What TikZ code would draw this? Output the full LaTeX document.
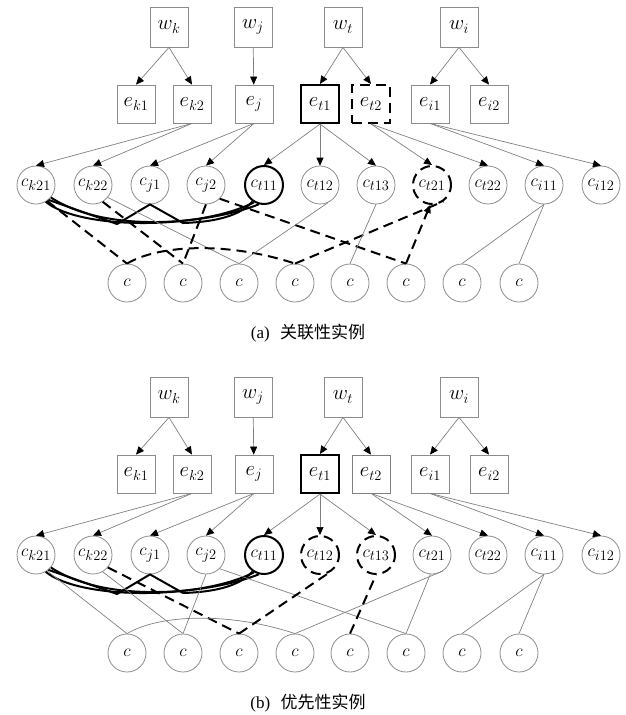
\documentclass[tikz,border=0pt]{standalone}
\usepackage{fontspec}
\setmainfont{Liberation Serif}
\newfontfamily\cjk{Noto Sans CJK SC}
\usetikzlibrary{arrows.meta}

\begin{document}
\begin{tikzpicture}[
  x=1pt, y=-1pt,
  every node/.style={font=\fontsize{20}{22}\selectfont},
  link/.style={draw=black!50, line width=0.7pt},
  arr/.style={link, -{Triangle[length=8pt,width=7pt,color=black]}},
  tipa/.style={-{Triangle[length=8pt,width=7pt,color=black]}},
  plain/.style={},
  wordbox/.style={draw=black!45, line width=0.8pt, minimum width=38pt, minimum height=40pt, inner sep=0pt},
  entbox/.style={draw=black!45, line width=0.8pt, minimum width=38pt, minimum height=38pt, inner sep=0pt},
  cand/.style={circle, draw=black!45, line width=0.8pt, minimum size=38pt, inner sep=0pt, font=\fontsize{19}{21}\selectfont},
  sel/.style={draw=black, line width=2pt},
  seldash/.style={draw=black, line width=2pt, dash pattern=on 10pt off 6pt}
]
  \useasboundingbox (0,0) rectangle (625,715);

  \foreach \pn/\dy/\ha/\hb/\tp/\ct in {a/0/seldash/link/tipa/关联性实例, b/370/link/seldash/plain/优先性实例}{
  \begin{scope}[shift={(0,\dy)}]
    % words
    \node[wordbox] (wk\pn) at (169,27) {$w_k$};
    \node[wordbox] (wj\pn) at (253,27) {$w_j$};
    \node[wordbox] (wt\pn) at (343,27) {$w_t$};
    \node[wordbox] (wi\pn) at (459,27) {$w_i$};
    % entities
    \node[entbox] (ek1\pn) at (136,104) {$e_{k1}$};
    \node[entbox] (ek2\pn) at (192,104) {$e_{k2}$};
    \node[entbox] (ej\pn) at (254,104) {$e_j$};
    \node[entbox, sel] (et1\pn) at (320,104) {$e_{t1}$};
    \node[entbox, \ha] (et2\pn) at (371,104) {$e_{t2}$};
    \node[entbox] (ei1\pn) at (430,104) {$e_{i1}$};
    \node[entbox] (ei2\pn) at (489,104) {$e_{i2}$};
    % concepts
    \node[cand] (ck21\pn) at (36,185) {$c_{k21}$};
    \node[cand] (ck22\pn) at (93,185) {$c_{k22}$};
    \node[cand] (cj1\pn) at (150,185) {$c_{j1}$};
    \node[cand] (cj2\pn) at (206,185) {$c_{j2}$};
    \node[cand, sel] (ct11\pn) at (264,185) {$c_{t11}$};
    \node[cand, \hb] (ct12\pn) at (320,185) {$c_{t12}$};
    \node[cand, \hb] (ct13\pn) at (376,185) {$c_{t13}$};
    \node[cand, \ha] (ct21\pn) at (432,185) {$c_{t21}$};
    \node[cand] (ct22\pn) at (488,185) {$c_{t22}$};
    \node[cand] (ci11\pn) at (544,185) {$c_{i11}$};
    \node[cand] (ci12\pn) at (601,185) {$c_{i12}$};
    % context
    \foreach \i/\xx in {1/127,2/183,3/239,4/295,5/350,6/406,7/462,8/519}
      \node[cand] (b\i\pn) at (\xx,283) {$c$};

    \draw[arr] (wk\pn.south) -- (ek1\pn.north);
    \draw[arr] (wk\pn.south) -- (ek2\pn.north);
    \draw[arr] (wj\pn) -- (ej\pn);
    \draw[arr] (wt\pn.south) -- (et1\pn.north);
    \draw[arr] (wt\pn.south) -- (et2\pn.north);
    \draw[arr] (wi\pn.south) -- (ei1\pn.north);
    \draw[arr] (wi\pn.south) -- (ei2\pn.north);
    \foreach \s/\d in {ek2/ck21, ek2/ck22, ej/cj1, ej/cj2, et1/ct11, et1/ct12, et1/ct13, et2/ct21, et2/ct22, ei1/ci11, ei1/ci12}
      \draw[arr] (\s\pn.south) -- (\d\pn.north);

    % relatedness paths
    \draw[sel] (ck21\pn.-60) .. controls (80,230) and (200,230) .. (ct11\pn.-120);
    \draw[sel] (ck21\pn.-40) .. controls (110,236) and (215,222) .. (ct11\pn.-105);
    \draw[sel] (ck21\pn.-50) -- (117,224) -- (cj1\pn.south) -- (183,223) .. controls (215,222) and (240,216) .. (ct11\pn.-125);

    \draw[\ha] (ck21\pn.-55) -- (b1\pn.north);
    \draw[\ha] (ck22\pn.-60) -- (b2\pn.north);
    \draw[\hb] (ck22\pn.-40) -- (b3\pn.north);
    \draw[\ha] (cj2\pn.south) -- (b2\pn.north);
    \draw[\ha] (cj2\pn.-45) -- (b6\pn.north);
    \draw[\ha] (b1\pn.north) .. controls (160,244) and (230,242) .. (b4\pn.north);
    \draw[\ha] (b4\pn.north) -- (ct21\pn.-55);
    \draw[\ha, \tp] (b6\pn.north) -- (ct21\pn.-95);
    \draw[\hb] (b3\pn.north) -- (ct12\pn.-65);
    \draw[\hb] (b5\pn.north) -- (ct13\pn.south);
    \draw[link] (ci11\pn.south) -- (b7\pn.north);
    \draw[link] (ci11\pn.south) -- (b8\pn.north);

    \node[font=\fontsize{17}{19}\selectfont] (cap\pn) at (308,333) {(\pn)\hspace{0.6em}{\cjk \ct}};
  \end{scope}
  }
\end{tikzpicture}
\end{document}
